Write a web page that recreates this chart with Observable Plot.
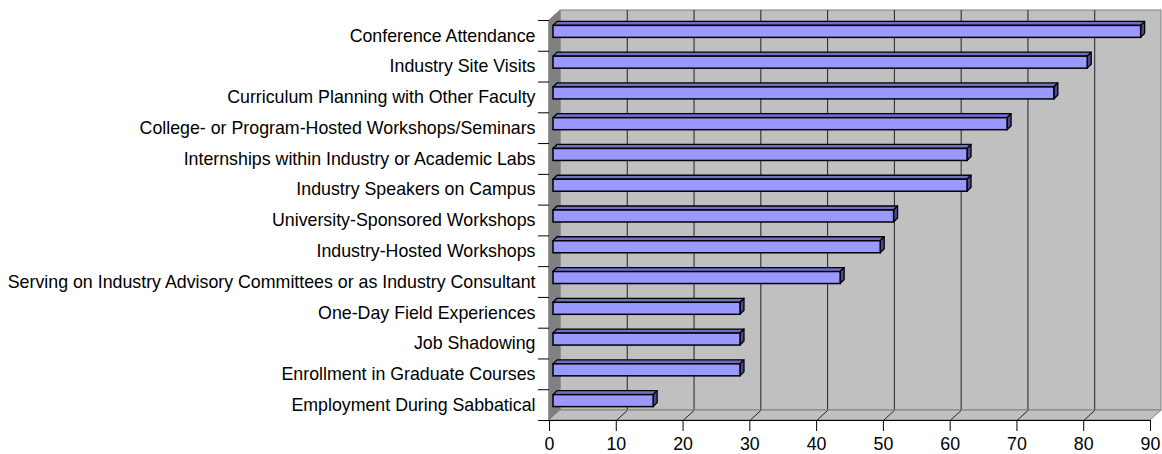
<!DOCTYPE html>
<html>
<head>
<meta charset="utf-8">
<script src="https://cdn.jsdelivr.net/npm/d3@7"></script>
<script src="https://cdn.jsdelivr.net/npm/@observablehq/plot@0.6"></script>
<style>
  html, body { margin: 0; padding: 0; background: #fff; overflow: hidden; }
  svg { display: block; }
</style>
</head>
<body>
<div id="chart"></div>
<script>
const categories = [
  "Conference Attendance",
  "Industry Site Visits",
  "Curriculum Planning with Other Faculty",
  "College- or Program-Hosted Workshops/Seminars",
  "Internships within Industry or Academic Labs",
  "Industry Speakers on Campus",
  "University-Sponsored Workshops",
  "Industry-Hosted Workshops",
  "Serving on Industry Advisory Committees or as Industry Consultant",
  "One-Day Field Experiences",
  "Job Shadowing",
  "Enrollment in Graduate Courses",
  "Employment During Sabbatical"
];
const values = [88, 80, 75, 68, 62, 62, 51, 49, 43, 28, 28, 28, 15];
const xTicks = [0, 10, 20, 30, 40, 50, 60, 70, 80, 90];

const W = 1162, H = 454;
const mL = 549, mR = 12, mT = 20, mB = 34;
const xMax = 90, n = categories.length;
const pxX = xMax / (W - mL - mR);      // data units per pixel (x)
const pxY = n / (H - mT - mB);         // data units per pixel (y)
const DX = 11 * pxX, DY = 10 * pxY;    // wall depth
const BD = 4 * pxX, BDY = 4 * pxY;     // bar depth
const HALF = 6 * pxY;                  // half bar height

const rows = categories.map((c, i) => ({i, c, v: values[i], yc: i + 0.5}));
const topFace = rows.flatMap(r => [{i: r.i, x: 0, y: r.yc - HALF}, {i: r.i, x: r.v, y: r.yc - HALF}]);
const sideFace = rows.flatMap(r => [{i: r.i, x: r.v, y: r.yc - HALF}, {i: r.i, x: r.v, y: r.yc + HALF}]);

const wall = [{a: 0}];
const leftWall = [{x1: 0, y1: 0, x2: 0, y2: n}, {x1: DX, y1: -DY, x2: DX, y2: n - DY}];
const floor = [{x1: 0, y1: n, x2: DX, y2: n - DY}, {x1: xMax, y1: n, x2: xMax + DX, y2: n - DY}];

const chart = Plot.plot({
  width: W, height: H,
  marginLeft: mL, marginRight: mR, marginTop: mT, marginBottom: mB,
  style: {fontFamily: "'Liberation Sans', Arial, sans-serif", fontSize: "17.8px", background: "#fff", color: "#000", overflow: "visible"},
  x: {domain: [0, xMax]},
  y: {domain: [0, n], reverse: true},
  marks: [
    // back wall
    Plot.rect(wall, {x1: DX, x2: xMax + DX, y1: -DY, y2: n - DY, fill: "#c0c0c0", stroke: "#808080", strokeWidth: 1}),
    Plot.ruleX(xTicks.slice(1, -1), {x: d => d + DX, y1: -DY, y2: n - DY, stroke: "#222", strokeWidth: 1}),
    // left wall
    Plot.area(leftWall, {x1: "x1", y1: "y1", x2: "x2", y2: "y2", curve: "linear", fill: "#808080", stroke: "#808080", strokeWidth: 1}),
    // floor
    Plot.area(floor, {x1: "x1", y1: "y1", x2: "x2", y2: "y2", curve: "linear", fill: "#c0c0c0", stroke: "#808080", strokeWidth: 1}),
    Plot.link(xTicks.slice(1, -1), {x1: d => d, y1: n, x2: d => d + DX, y2: n - DY, stroke: "#222", strokeWidth: 1}),
    // bars: top face, side face, front face
    Plot.area(topFace, {x1: "x", y1: "y", x2: d => d.x + BD, y2: d => d.y - BDY, z: "i", curve: "linear",
      fill: "#6f6fc4", stroke: "#000", strokeWidth: 1.3, strokeLinejoin: "round", dx: 4, dy: -4}),
    Plot.area(sideFace, {x1: "x", y1: "y", x2: d => d.x + BD, y2: d => d.y - BDY, z: "i", curve: "linear",
      fill: "#4a4a8c", stroke: "#000", strokeWidth: 1.3, strokeLinejoin: "round", dx: 4, dy: -4}),
    Plot.rect(rows, {x1: 0, x2: "v", y1: d => d.yc - HALF, y2: d => d.yc + HALF,
      fill: "#9999ff", stroke: "#000", strokeWidth: 1.5, dx: 4, dy: -4}),
    // front axis line
    Plot.ruleY([n], {x1: 0, x2: xMax, stroke: "#000", strokeWidth: 1}),
    // axes
    Plot.axisX(xTicks, {anchor: "bottom", tickSize: 11, tickPadding: 6, label: null}),
    Plot.axisY(d3.range(0, n + 1), {anchor: "left", tickSize: 11, tickFormat: () => "", label: null}),
    Plot.axisY(rows.map(r => r.yc), {anchor: "left", tickSize: 0, tickPadding: 14, tickFormat: d => categories[Math.floor(d)], label: null})
  ]
});
document.getElementById("chart").appendChild(chart);
</script>
</body>
</html>
